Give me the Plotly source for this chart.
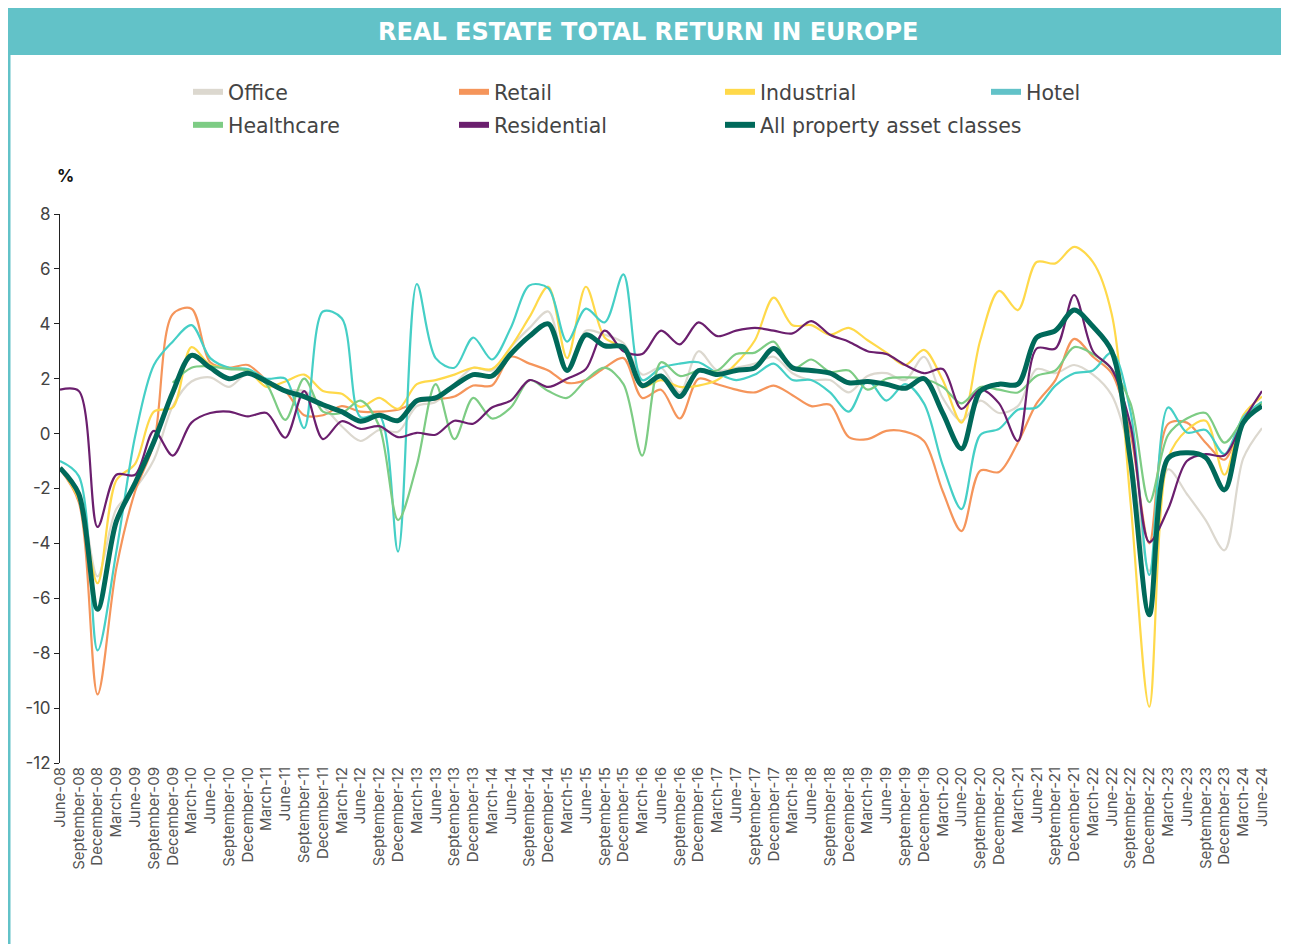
import plotly.graph_objects as go

months = ["June", "September", "December", "March"]
quarters = []
yr = 8
for k in range(65):
    m = months[k % 4]
    if m == "March":
        yr += 1
    quarters.append(f"{m}-{yr:02d}")

office = [-1.25, -2.1, -5.2, -2.75, -2.0, -0.95, 1.0, 1.9, 2.05, 1.7, 2.2, 1.9, 1.6, 1.55, 1.0,
          0.27, -0.27, 0.13, 0.07, 1.0, 1.15, 1.8, 2.4, 2.3, 3.15, 3.85, 4.45, 2.3, 3.75, 3.6, 3.3,
          2.15, 2.4, 1.5, 3.0, 2.3, 2.4, 2.55, 2.8, 2.2, 1.95, 1.95, 1.5, 2.1, 2.2, 1.95,
          2.8, 1.3, 0.47, 1.2, 0.75, 1.0, 2.35, 2.2, 2.5, 2.15, 1.4, -0.8, -5.0, -1.3, -2.2, -3.15, -4.25, -0.9, 0.2]
retail = [-1.3, -2.5, -9.5, -4.9, -2.1, -0.35, 4.35, 4.55, 2.6, 2.4, 2.5, 1.95, 1.55, 0.67, 0.67,
          1.0, 0.8, 0.8, 0.87, 1.15, 1.25, 1.35, 1.75, 1.75, 2.8, 2.55, 2.3, 1.85, 1.95, 2.4, 2.75,
          1.3, 1.6, 0.55, 2.0, 1.8, 1.6, 1.5, 1.75, 1.4, 1.0, 1.05, -0.13, -0.2, 0.1, 0.07,
          -0.27, -2.1, -3.55, -1.35, -1.4, -0.33, 1.1, 1.95, 3.45, 2.8, 2.2, 0.0, -4.0, 0.35, 0.4, -0.33, -0.95, 0.55, 1.15]
industrial = [-1.25, -2.4, -5.45, -1.7, -1.1, 0.8, 0.95, 3.15, 2.5, 2.4, 2.3, 1.7, 1.9, 2.15, 1.55,
              1.45, 0.97, 1.3, 0.9, 1.8, 1.95, 2.15, 2.4, 2.35, 3.15, 4.25, 5.35, 2.75, 5.35, 3.5, 3.1,
              1.7, 1.95, 1.7, 1.75, 1.95, 2.55, 3.4, 4.95, 3.95, 3.95, 3.6, 3.85, 3.4, 2.95, 2.5,
              3.05, 1.95, 0.4, 3.4, 5.2, 4.5, 6.25, 6.2, 6.8, 6.25, 4.35, -2.5, -9.95, -0.9, 0.13, 0.47, -1.5, 0.67, 1.35]
hotel = [-1.0, -1.55, -7.9, -4.3, -0.1, 2.5, 3.35, 3.95, 2.75, 2.4, 2.35, 2.0, 2.0, 0.2, 4.45,
         4.2, 0.6, 0.67, -4.3, 5.45, 2.75, 2.4, 3.5, 2.7, 3.85, 5.4, 5.3, 3.35, 4.55, 4.05, 5.8,
         1.95, 2.4, 2.55, 2.6, 2.2, 1.95, 2.15, 2.55, 1.95, 1.95, 1.5, 0.8, 1.95, 1.2, 1.8,
         1.1, -1.15, -2.75, -0.05, 0.17, 0.87, 0.95, 1.75, 2.2, 2.3, 2.95, 0.8, -5.15, 0.95, 0.04, 0.13, -0.75, 0.6, 1.15]
healthcare = [None, None, None, None, None, None, 1.85, 2.4, 2.45, 2.35, 2.3, 1.8, 0.5, 2.0, 0.8,
              0.75, 1.2, 0.27, -3.15, -1.15, 1.8, -0.2, 1.3, 0.55, 0.95, 1.95, 1.55, 1.3, 1.95, 2.4, 1.8,
              -0.8, 2.6, 2.1, 2.3, 2.3, 2.9, 2.95, 3.35, 2.35, 2.7, 2.25, 2.3, 1.6, 2.0, 2.05,
              2.0, 1.7, 1.1, 1.7, 1.6, 1.5, 2.1, 2.3, 3.15, 2.9, 2.35, 1.1, -2.5, -0.05, 0.55, 0.75, -0.33, 0.5, 1.1]
residential = [1.6, 1.55, -3.4, -1.5, -1.5, 0.1, -0.8, 0.4, 0.75, 0.8, 0.63, 0.75, -0.15, 1.55, -0.2,
               0.45, 0.17, 0.27, -0.13, 0.03, -0.04, 0.47, 0.36, 0.95, 1.2, 1.95, 1.7, 2.0, 2.35, 3.75, 3.0,
               2.9, 3.75, 3.25, 4.05, 3.55, 3.75, 3.85, 3.75, 3.65, 4.1, 3.6, 3.35, 3.0, 2.9, 2.5,
               2.2, 2.35, 0.9, 1.6, 1.1, -0.27, 3.1, 3.1, 5.05, 3.0, 2.35, 0.3, -3.95, -2.75, -1.0, -0.75, -0.8, 0.47, 1.55]
all_property = [-1.25, -2.2, -6.4, -3.2, -1.8, -0.3, 1.5, 2.85, 2.4, 2.0, 2.2, 1.9, 1.55, 1.35, 1.05,
                0.8, 0.45, 0.67, 0.47, 1.2, 1.3, 1.75, 2.15, 2.1, 2.9, 3.55, 4.0, 2.3, 3.6, 3.2, 3.15,
                1.75, 2.1, 1.35, 2.3, 2.15, 2.3, 2.4, 3.1, 2.4, 2.3, 2.2, 1.85, 1.9, 1.8, 1.65,
                2.0, 0.75, -0.55, 1.55, 1.8, 1.8, 3.5, 3.75, 4.5, 3.9, 3.0, -1.0, -6.6, -0.9, -0.7, -0.87, -2.05, 0.4, 1.0]

y_ticks = [8, 6, 4, 2, 0, -2, -4, -6, -8, -10, -12]
y_tick_labels = ["8", "6", "4", "2", "0", "-2", "-4", "-6", "-8", "-10", "-12"]

series = [
    ("Office", office, "#dcd8cf", 2.2, "legend"),
    ("Retail", retail, "#f5955b", 2.2, "legend"),
    ("Industrial", industrial, "#ffd94a", 2.2, "legend"),
    ("Hotel", hotel, "#45cfc6", 2.2, "legend"),
    ("Healthcare", healthcare, "#7dcc84", 2.2, "legend2"),
    ("Residential", residential, "#6b1f6e", 2.2, "legend2"),
    ("All property asset classes", all_property, "#00695a", 5, "legend2"),
]
legend_colors = {"Hotel": "#62c2c8"}

OFF = 8  # page body margin
W, H = 1281, 936
L, R, T, B = 52, 27, 206, 181
PW, PH = W - L - R, H - T - B


def px_x(x):
    return (x - OFF - L) / PW


def px_y(y):
    return (H - B - (y - OFF)) / PH


fig = go.Figure()
for name, vals, col, w, lg in series:
    fig.add_trace(go.Scatter(x=quarters, y=vals, mode="lines", name=name, showlegend=False,
                             line=dict(color=col, width=w, shape="spline", smoothing=0.9),
                             connectgaps=False, hoverinfo="skip"))
for name, vals, col, w, lg in series:
    extra = dict(legendwidth=320) if name.startswith("All") else {}
    fig.add_trace(go.Scatter(x=[None], y=[None], mode="lines", name=name, showlegend=True,
                             legend=lg, line=dict(color=legend_colors.get(name, col), width=6),
                             **extra))

legend_common = dict(orientation="h", xanchor="left", yanchor="top",
                     entrywidth=221, entrywidthmode="pixels",
                     font=dict(size=20.5, color="#444", family="DejaVu Sans, sans-serif"),
                     bgcolor="rgba(0,0,0,0)")

fig.update_layout(
    width=W, height=H,
    margin=dict(l=L, r=R, t=T, b=B),
    paper_bgcolor="white", plot_bgcolor="white",
    font=dict(family="Inter, Open Sans, sans-serif", color="#444"),
    showlegend=True,
    legend=dict(x=px_x(188), y=px_y(72), **legend_common),
    legend2=dict(x=px_x(188), y=px_y(105), **legend_common),
    xaxis=dict(type="category", categoryarray=quarters, range=[0, 64],
               tickangle=-90, tickfont=dict(size=15, color="#555"),
               showline=False, ticks="", showgrid=False, zeroline=False),
    xaxis2=dict(type="category", categoryarray=quarters, matches="x", overlaying="x",
                anchor="free", position=0.6, showticklabels=False, ticks="outside",
                ticklen=5, tickcolor="#222", showline=True, linecolor="#222", linewidth=1,
                showgrid=False, zeroline=False),
    yaxis=dict(range=[-12, 8], tickvals=y_ticks, ticktext=y_tick_labels,
               ticks="outside", ticklen=5, tickcolor="#222", showline=True,
               linecolor="#222", linewidth=1, showgrid=False, zeroline=False,
               tickfont=dict(size=17, color="#444")),
    shapes=[
        dict(type="rect", xref="paper", yref="paper", x0=px_x(6), x1=px_x(1295),
             y0=px_y(55), y1=px_y(0), fillcolor="#62c2c8", line=dict(width=0), layer="below"),
        dict(type="rect", xref="paper", yref="paper", x0=px_x(6), x1=px_x(10.5),
             y0=px_y(950), y1=px_y(55), fillcolor="#62c2c8", line=dict(width=0), layer="below"),
    ],
    annotations=[
        dict(text="<b>REAL ESTATE TOTAL RETURN IN EUROPE</b>", xref="paper", yref="paper",
             x=px_x(648), y=px_y(32), showarrow=False, xanchor="center", yanchor="middle",
             font=dict(size=24, color="white", family="DejaVu Sans, sans-serif")),
        dict(text="<b>%</b>", xref="paper", yref="paper", x=px_x(55), y=px_y(176),
             showarrow=False, xanchor="left", yanchor="middle",
             font=dict(size=17, color="#111", family="Inter, sans-serif")),
    ],
)

fig.write_html("out.html")
